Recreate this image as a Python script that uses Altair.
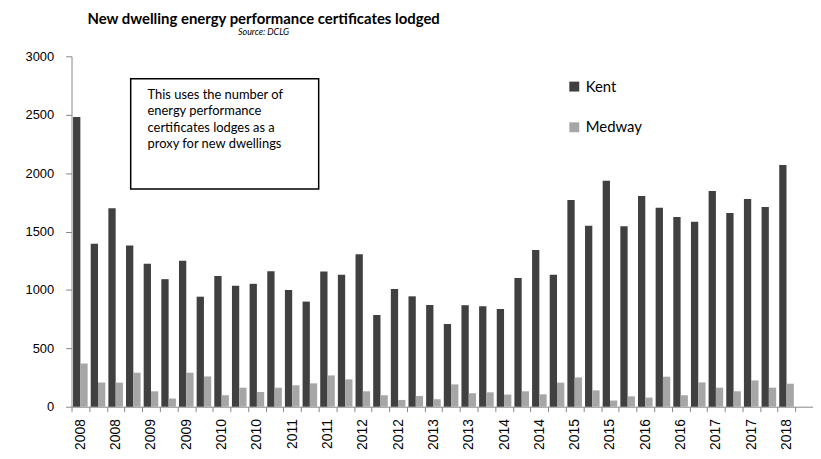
import altair as alt
import pandas as pd

# Categories: quarters from 2008 Q1 to 2018 Q2 (last one has no data yet)
quarters = [f"{y} Q{q}" for y in range(2008, 2019) for q in (1, 2, 3, 4)][:42]
series = ["Kent", "Medway"]
colors = ["#404040", "#a6a6a6"]

kent = [2480, 1395, 1700, 1380, 1225, 1092, 1250, 942, 1120, 1035, 1052, 1160,
        999, 900, 1157, 1129, 1305, 785, 1007, 945, 871, 708, 869, 860, 836,
        1101, 1341, 1129, 1770, 1549, 1934, 1545, 1803, 1704, 1625, 1583, 1846,
        1659, 1778, 1710, 2070]
medway = [370, 208, 206, 291, 132, 70, 291, 259, 98, 163, 126, 163, 183, 200,
          268, 234, 132, 98, 58, 92, 64, 191, 115, 123, 104, 132, 106, 206, 251,
          140, 53, 89, 78, 257, 98, 208, 163, 132, 225, 163, 197]

y_ticks = [0, 500, 1000, 1500, 2000, 2500, 3000]
note_text = ("This uses the number of\nenergy performance\n"
             "certificates lodges as a\nproxy for new dwellings")

rows = []
for i, q in enumerate(quarters[:len(kent)]):
    rows.append({"quarter": q, "series": "Kent", "value": kent[i]})
    rows.append({"quarter": q, "series": "Medway", "value": medway[i]})
df = pd.DataFrame(rows)

label_expr = ("isString(datum.value) && (slice(datum.value, 5) == 'Q1' || "
              "slice(datum.value, 5) == 'Q3') ? slice(datum.value, 0, 4) : ''")

bars = alt.Chart(df).mark_bar().encode(
    x=alt.X("quarter:N", sort=quarters,
            scale=alt.Scale(domain=quarters, paddingInner=0, paddingOuter=0),
            axis=alt.Axis(title=None, labelAngle=270, labelFont="Liberation Sans",
                          labelFontSize=14, labelColor="black", labelExpr=label_expr,
                          tickBand="extent", tickSize=5, tickColor="#868686",
                          domainColor="#868686", labelPadding=7, labelOverlap=False)),
    xOffset=alt.XOffset("series:N", sort=series,
                        scale=alt.Scale(domain=series, paddingInner=0, paddingOuter=0.21)),
    y=alt.Y("value:Q", scale=alt.Scale(domain=[0, 3000], nice=False),
            axis=alt.Axis(title=None, values=y_ticks, format="d",
                          labelFont="Liberation Sans", labelFontSize=13,
                          labelColor="black", tickSize=6, tickColor="#868686",
                          domainColor="#868686", labelPadding=12, grid=False)),
    color=alt.Color("series:N", scale=alt.Scale(domain=series, range=colors),
                    legend=alt.Legend(title=None, orient="none", legendX=499, legendY=23,
                                      direction="vertical", symbolType="square",
                                      symbolSize=100, symbolStrokeWidth=0,
                                      labelFont="Lato", labelFontSize=15,
                                      labelColor="black", rowPadding=25, padding=0)),
)

note_df = pd.DataFrame({"note": [note_text]})
box = alt.Chart(note_df).mark_rect(fill="white", stroke="black", strokeWidth=1.5).encode(
    x=alt.value(59.6), x2=alt.value(249), y=alt.value(22.6), y2=alt.value(133.6)
)
note = alt.Chart(note_df).mark_text(
    align="left", baseline="top", lineBreak="\n", lineHeight=16.6,
    font="Lato", fontSize=13, color="black"
).encode(x=alt.value(76.6), y=alt.value(33), text="note:N")

chart = alt.layer(bars, box, note).properties(
    width=747, height=353,
    autosize=alt.AutoSizeParams(type="none"),
    padding={"left": 64, "top": 47, "right": 0, "bottom": 50},
    title=alt.TitleParams(
        text="New dwelling energy performance certificates lodged",
        subtitle="Source: DCLG", font="Lato", fontSize=15, fontWeight="bold",
        subtitleFont="Lato", subtitleFontSize=9, subtitleFontStyle="italic",
        color="black", subtitleColor="black", anchor="middle", dx=-180,
        offset=13, subtitlePadding=2),
).configure(background="white").configure_view(stroke=None)

chart.save("out.html", embed_options={"renderer": "svg", "actions": False})
